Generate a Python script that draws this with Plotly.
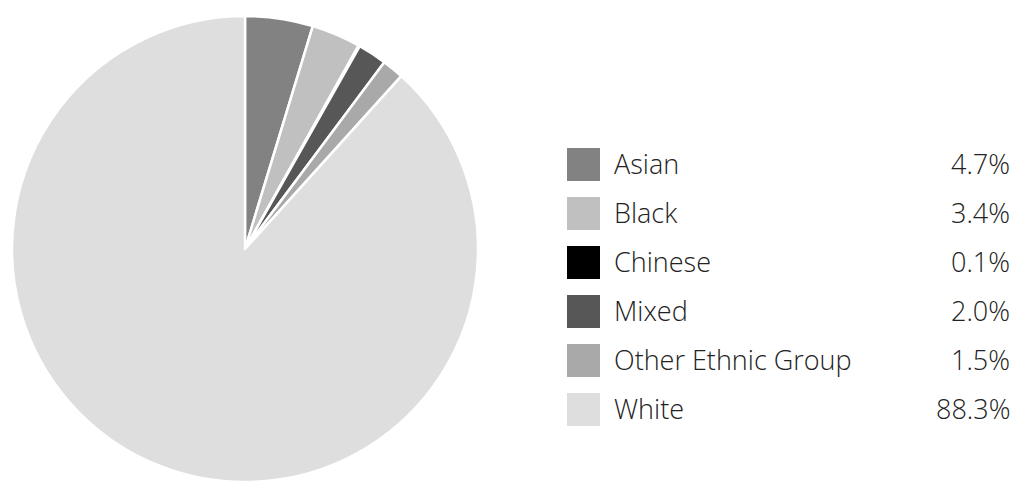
import plotly.graph_objects as go

W, H = 1017, 482

categories = ["Asian", "Black", "Chinese", "Mixed", "Other Ethnic Group", "White"]
values = [4.7, 3.4, 0.1, 2.0, 1.5, 88.3]
colors = ["#828282", "#c0c0c0", "#000000", "#575757", "#a9a9a9", "#dedede"]

FONT = dict(family="Open Sans", size=27, color="#222222", weight=300)

fig = go.Figure()
fig.add_trace(go.Pie(
    labels=categories, values=values, sort=False, direction="clockwise", rotation=0,
    marker=dict(colors=colors, line=dict(color="white", width=2.5)),
    textinfo="none", hoverinfo="label+percent", showlegend=False,
    domain=dict(x=[12 / W, 478 / W], y=[0, 1 - 16 / H]),
))

shapes, annotations = [], []
row0, step = 164.5, 49
for i, (cat, val, col) in enumerate(zip(categories, values, colors)):
    yc = row0 + i * step
    shapes.append(dict(type="rect", xref="paper", yref="paper",
                       x0=567 / W, x1=600 / W, y0=1 - (yc + 16.5) / H, y1=1 - (yc - 16.5) / H,
                       fillcolor=col, line=dict(width=0)))
    annotations.append(dict(x=612 / W, y=1 - (yc - 1) / H, xref="paper", yref="paper",
                            text=cat, showarrow=False, xanchor="left", yanchor="middle",
                            font=FONT))
    annotations.append(dict(x=1012 / W, y=1 - (yc - 1) / H, xref="paper", yref="paper",
                            text=f"{val:.1f}%", showarrow=False, xanchor="right", yanchor="middle",
                            font=FONT))

fig.update_layout(width=W, height=H, margin=dict(l=0, r=0, t=0, b=0),
                  paper_bgcolor="white", plot_bgcolor="white",
                  shapes=shapes, annotations=annotations)
fig.write_html("out.html", config={"displayModeBar": False},
               post_script="document.body.style.margin='0';")
